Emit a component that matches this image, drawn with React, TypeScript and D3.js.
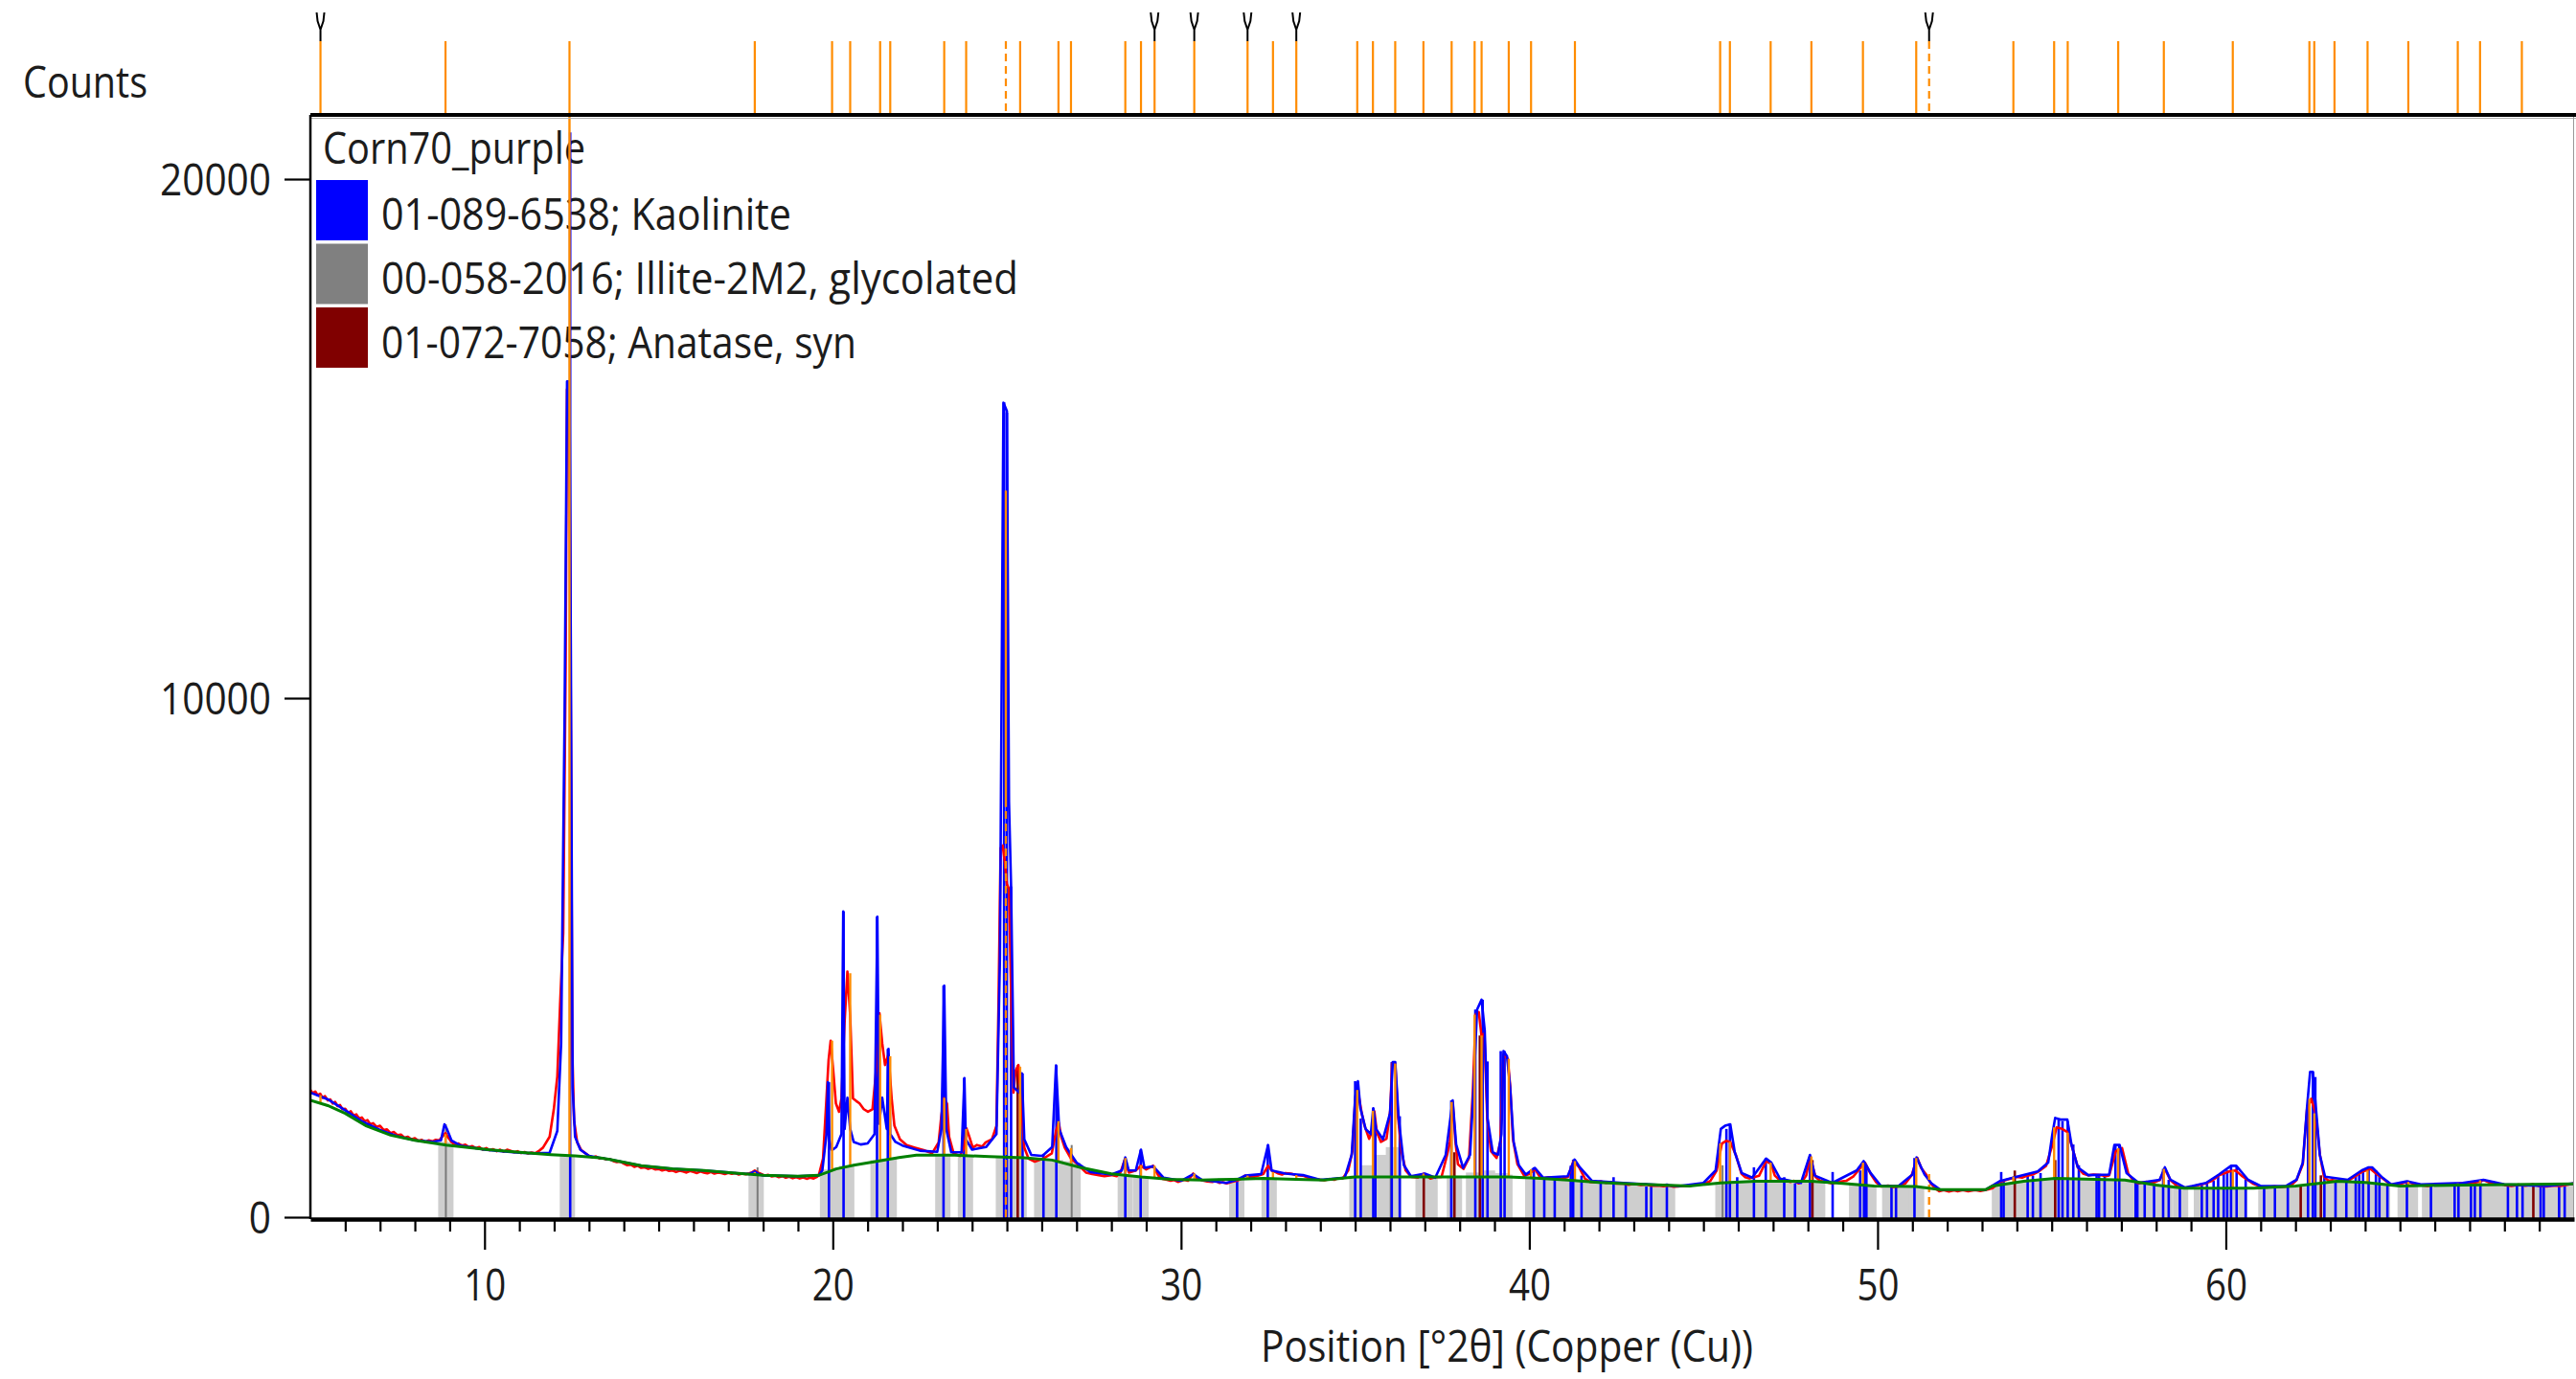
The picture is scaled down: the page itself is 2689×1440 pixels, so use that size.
import React, { useRef, useEffect } from 'react';
import * as d3 from 'd3';

type Pt = [number, number];

// observed scan (red), 2theta / counts
const observed: Pt[] = [
  [5.0, 2450], [5.07, 2390], [5.14, 2420], [5.21, 2350], [5.28, 2380], [5.35, 2300], [5.42, 2330], [5.5, 2250],
  [5.57, 2270], [5.64, 2190], [5.71, 2220], [5.78, 2140], [5.85, 2160], [5.92, 2080], [6.0, 2090], [6.08, 2010],
  [6.16, 2040], [6.24, 1960], [6.32, 1980], [6.4, 1900], [6.48, 1920], [6.56, 1850], [6.64, 1870], [6.72, 1790],
  [6.8, 1810], [6.9, 1740], [7.0, 1760], [7.1, 1680], [7.2, 1690], [7.3, 1620], [7.4, 1640], [7.5, 1580],
  [7.6, 1590], [7.7, 1530], [7.8, 1550], [7.9, 1500], [8.0, 1520], [8.1, 1470], [8.2, 1490], [8.3, 1450],
  [8.4, 1480], [8.5, 1460], [8.6, 1490], [8.7, 1480], [8.8, 1560], [8.88, 1620], [8.95, 1540], [9.05, 1450],
  [9.15, 1400], [9.25, 1420], [9.35, 1380], [9.45, 1395], [9.55, 1350], [9.65, 1370], [9.75, 1330], [9.85, 1350],
  [9.95, 1300], [10.05, 1330], [10.15, 1290], [10.25, 1310], [10.35, 1270], [10.45, 1300], [10.55, 1260],
  [10.65, 1300], [10.75, 1280], [10.85, 1250], [10.95, 1270], [11.05, 1235], [11.15, 1255], [11.25, 1225],
  [11.35, 1245], [11.45, 1230], [11.55, 1270], [11.68, 1340], [11.87, 1550], [11.99, 2080], [12.09, 2710],
  [12.17, 4090], [12.26, 5470], [12.33, 10600], [12.37, 15950], [12.43, 15950], [12.47, 10870], [12.52, 3240],
  [12.57, 1870], [12.66, 1440], [12.78, 1290], [12.9, 1230], [13.0, 1180], [13.1, 1150], [13.2, 1170],
  [13.3, 1130], [13.4, 1140], [13.5, 1110], [13.6, 1120], [13.7, 1080], [13.8, 1060], [13.9, 1070], [14.0, 1030],
  [14.1, 1000], [14.2, 1010], [14.3, 970], [14.4, 990], [14.5, 950], [14.6, 960], [14.7, 930], [14.8, 950],
  [14.9, 920], [15.0, 930], [15.1, 900], [15.2, 920], [15.3, 890], [15.4, 900], [15.5, 870], [15.6, 895],
  [15.7, 880], [15.8, 860], [15.9, 890], [16.0, 870], [16.1, 850], [16.2, 880], [16.3, 860], [16.4, 845],
  [16.5, 870], [16.6, 840], [16.7, 860], [16.8, 850], [16.9, 830], [17.0, 855], [17.1, 835], [17.2, 850],
  [17.3, 820], [17.4, 840], [17.5, 825], [17.6, 845], [17.7, 870], [17.76, 900], [17.85, 860], [17.95, 830],
  [18.05, 800], [18.15, 815], [18.25, 785], [18.35, 800], [18.45, 770], [18.55, 790], [18.65, 760], [18.75, 780],
  [18.85, 750], [18.95, 770], [19.05, 745], [19.15, 765], [19.25, 740], [19.35, 760], [19.45, 745], [19.55, 780],
  [19.6, 810], [19.72, 1130], [19.81, 2190], [19.88, 3030], [19.94, 3400], [20.0, 2930], [20.09, 2190],
  [20.18, 2030], [20.25, 2290], [20.34, 3770], [20.42, 4730], [20.5, 3880], [20.58, 2290], [20.67, 2240],
  [20.77, 2190], [20.89, 2080], [21.01, 2030], [21.14, 2080], [21.23, 2720], [21.3, 3350], [21.34, 3930],
  [21.42, 3350], [21.5, 2930], [21.6, 3140], [21.69, 2290], [21.77, 1760], [21.93, 1500], [22.12, 1390],
  [22.36, 1340], [22.61, 1290], [22.85, 1230], [23.04, 1440], [23.12, 1970], [23.19, 2290], [23.28, 2190],
  [23.34, 1550], [23.47, 1230], [23.65, 1180], [23.77, 1340], [23.84, 1710], [23.92, 1550], [24.02, 1340],
  [24.14, 1390], [24.29, 1360], [24.39, 1440], [24.57, 1500], [24.7, 1760], [24.76, 4140], [24.82, 7110],
  [24.88, 7160], [24.94, 6850], [25.0, 6420], [25.06, 6320], [25.12, 4300], [25.19, 2400], [25.25, 2820],
  [25.33, 2930], [25.41, 2190], [25.5, 1340], [25.62, 1130], [25.8, 1070], [26.05, 1130], [26.29, 1230],
  [26.41, 1660], [26.49, 1820], [26.56, 1550], [26.66, 1340], [26.84, 1130], [27.03, 1020], [27.27, 860],
  [27.45, 830], [27.64, 810], [27.8, 790], [28.0, 810], [28.15, 790], [28.26, 860], [28.38, 1100], [28.5, 860],
  [28.7, 900], [28.85, 990], [29.0, 920], [29.2, 990], [29.35, 800], [29.47, 740], [29.6, 720], [29.7, 700],
  [29.8, 715], [29.91, 680], [30.0, 700], [30.1, 720], [30.2, 700], [30.35, 840], [30.45, 760], [30.6, 710],
  [30.75, 690], [30.9, 680], [31.0, 700], [31.1, 660], [31.2, 675], [31.31, 650], [31.45, 680], [31.6, 700],
  [31.7, 730], [31.84, 800], [31.95, 770], [32.1, 780], [32.2, 800], [32.36, 830], [32.5, 990], [32.6, 900],
  [32.71, 870], [32.8, 840], [32.9, 820], [33.0, 850], [33.15, 840], [33.3, 810], [33.5, 800], [33.65, 760],
  [33.8, 740], [33.95, 725], [34.12, 710], [34.25, 735], [34.4, 720], [34.5, 750], [34.64, 745], [34.8, 900],
  [34.92, 1270], [35.0, 2250], [35.08, 2430], [35.19, 2000], [35.27, 1760], [35.4, 1510], [35.48, 1640],
  [35.55, 2040], [35.62, 1640], [35.74, 1450], [35.9, 1510], [36.01, 2070], [36.06, 2960], [36.15, 2960],
  [36.23, 1940], [36.33, 1270], [36.45, 900], [36.61, 775], [36.8, 760], [36.97, 840], [37.16, 745],
  [37.3, 770], [37.48, 775], [37.64, 1200], [37.72, 1450], [37.8, 2220], [37.88, 1450], [37.95, 1020],
  [38.11, 930], [38.27, 1140], [38.38, 2430], [38.46, 3910], [38.55, 3950], [38.63, 3480], [38.71, 3540],
  [38.79, 1940], [38.9, 1270], [39.06, 1140], [39.17, 1450], [39.26, 3140], [39.38, 3050], [39.45, 2530],
  [39.53, 1510], [39.66, 1020], [39.85, 800], [40.0, 830], [40.16, 930], [40.3, 780], [40.4, 745], [40.55, 770],
  [40.7, 760], [40.9, 740], [41.11, 775], [41.27, 1080], [41.43, 960], [41.6, 740], [41.74, 680], [41.9, 670],
  [42.05, 690], [42.2, 660], [42.35, 675], [42.5, 645], [42.69, 650], [42.85, 625], [43.0, 640], [43.2, 620],
  [43.35, 630], [43.5, 605], [43.7, 610], [43.85, 595], [44.0, 610], [44.15, 585], [44.27, 590], [44.45, 605],
  [44.6, 600], [44.7, 620], [44.85, 630], [45.06, 650], [45.2, 700], [45.38, 900], [45.53, 1420], [45.65, 1470],
  [45.77, 1450], [45.93, 1200], [46.09, 840], [46.2, 770], [46.32, 745], [46.45, 770], [46.6, 800], [46.8, 1080],
  [46.95, 1020], [47.05, 800], [47.19, 714], [47.35, 700], [47.5, 680], [47.6, 700], [47.74, 650], [47.85, 700],
  [47.95, 800], [48.06, 1175], [48.22, 775], [48.35, 700], [48.5, 680], [48.69, 650], [48.9, 680], [49.1, 700],
  [49.3, 780], [49.48, 930], [49.64, 1050], [49.8, 836], [49.95, 680], [50.11, 590], [50.3, 610], [50.45, 580],
  [50.58, 590], [50.8, 650], [50.98, 806], [51.14, 1144], [51.25, 950], [51.38, 836], [51.53, 650], [51.65, 560],
  [51.77, 500], [51.9, 520], [52.05, 495], [52.2, 515], [52.3, 500], [52.45, 520], [52.6, 500], [52.8, 520],
  [52.95, 505], [53.15, 530], [53.3, 560], [53.51, 680], [53.7, 720], [54.0, 775], [54.15, 760], [54.3, 800],
  [54.45, 820], [54.6, 870], [54.84, 990], [55.02, 1390], [55.14, 1730], [55.3, 1700], [55.45, 1640],
  [55.57, 1390], [55.75, 960], [55.9, 840], [56.05, 805], [56.2, 820], [56.4, 810], [56.55, 790], [56.65, 805],
  [56.84, 1270], [57.02, 1330], [57.2, 836], [57.35, 700], [57.5, 650], [57.7, 680], [57.9, 660], [58.1, 713],
  [58.25, 930], [58.41, 713], [58.6, 600], [58.83, 560], [59.0, 580], [59.15, 610], [59.3, 630], [59.43, 652],
  [59.6, 700], [59.8, 805], [60.1, 880], [60.28, 900], [60.45, 800], [60.64, 713], [60.8, 640], [61.0, 590],
  [61.2, 575], [61.4, 595], [61.55, 580], [61.73, 590], [61.9, 630], [62.03, 713], [62.21, 1020], [62.33, 2070],
  [62.45, 2280], [62.58, 2000], [62.7, 1205], [62.82, 775], [62.95, 700], [63.06, 713], [63.3, 690],
  [63.54, 713], [63.7, 780], [63.9, 870], [64.15, 930], [64.3, 850], [64.51, 744], [64.75, 621], [65.0, 640],
  [65.23, 682], [65.4, 640], [65.6, 621], [65.8, 600], [66.0, 630], [66.2, 640], [66.4, 615], [66.6, 640],
  [66.8, 652], [67.1, 660], [67.25, 680], [67.41, 713], [67.55, 670], [67.7, 650], [67.85, 640], [68.0, 621],
  [68.2, 600], [68.4, 625], [68.6, 605], [68.8, 630], [69.0, 600], [69.22, 590], [69.4, 610], [69.6, 600],
  [69.8, 625], [70.0, 652],
];

// calculated profile (blue)
const calculated: Pt[] = [
  [5.0, 2400], [5.5, 2270], [6.0, 2060], [6.5, 1840], [7.0, 1680], [7.5, 1560], [8.0, 1480], [8.5, 1450],
  [8.75, 1480], [8.85, 1790], [8.92, 1700], [9.05, 1480], [9.3, 1380], [10.0, 1300], [10.5, 1270], [11.0, 1240],
  [11.5, 1230], [11.87, 1240], [12.09, 1660], [12.2, 3350], [12.3, 9700], [12.37, 16100], [12.44, 16100],
  [12.48, 10760], [12.53, 2500], [12.6, 1550], [12.75, 1300], [13.0, 1180], [13.3, 1145], [13.6, 1110],
  [14.5, 990], [15.4, 930], [16.3, 900], [17.2, 850], [17.6, 830], [17.76, 880], [17.9, 820], [18.0, 805],
  [19.0, 790], [19.6, 805], [19.7, 900], [19.82, 1600], [19.86, 2600], [19.9, 1500], [19.96, 1300],
  [20.0, 1300], [20.1, 1350], [20.25, 1600], [20.3, 5890], [20.34, 1700], [20.42, 2300], [20.5, 1700],
  [20.6, 1450], [20.8, 1400], [21.0, 1420], [21.2, 1600], [21.28, 5790], [21.33, 1800], [21.42, 2300],
  [21.55, 1700], [21.6, 3240], [21.65, 1600], [21.8, 1450], [22.0, 1380], [22.5, 1280], [23.0, 1260],
  [23.12, 1700], [23.2, 4460], [23.26, 1700], [23.4, 1250], [23.7, 1250], [23.78, 2680], [23.82, 1500],
  [24.0, 1300], [24.4, 1350], [24.7, 1600], [24.8, 5000], [24.9, 15690], [25.0, 15530], [25.06, 8000],
  [25.12, 6370], [25.2, 2500], [25.35, 2400], [25.43, 2770], [25.5, 1500], [25.7, 1200], [26.0, 1180],
  [26.05, 1200], [26.3, 1350], [26.41, 2925], [26.5, 1700], [26.7, 1350], [27.0, 1050], [27.4, 870],
  [28.0, 820], [28.3, 900], [28.4, 1150], [28.5, 900], [28.7, 900], [28.85, 1300], [28.95, 950], [29.2, 980],
  [29.5, 760], [30.0, 700], [30.35, 830], [30.6, 720], [31.3, 660], [31.6, 720], [31.84, 800], [32.3, 830],
  [32.5, 1390], [32.6, 900], [33.0, 840], [33.5, 810], [34.0, 720], [34.7, 760], [34.9, 1200], [35.0, 2300],
  [35.08, 2620], [35.15, 2100], [35.3, 1700], [35.45, 1600], [35.52, 2100], [35.6, 1700], [35.8, 1500],
  [36.0, 2000], [36.08, 2990], [36.15, 2990], [36.25, 1900], [36.4, 1000], [36.6, 790], [37.0, 840],
  [37.3, 760], [37.6, 1200], [37.8, 2250], [37.9, 1400], [38.1, 950], [38.3, 1200], [38.4, 2500],
  [38.5, 4000], [38.63, 4190], [38.72, 3600], [38.8, 1900], [38.95, 1250], [39.1, 1200], [39.2, 1600],
  [39.26, 3200], [39.36, 3100], [39.45, 2500], [39.55, 1450], [39.7, 1000], [39.9, 820], [40.16, 950],
  [40.4, 760], [41.1, 790], [41.3, 1110], [41.45, 960], [41.8, 700], [42.7, 660], [44.3, 600], [45.0, 660],
  [45.35, 900], [45.5, 1700], [45.62, 1760], [45.77, 1790], [45.9, 1250], [46.1, 850], [46.4, 760],
  [46.8, 1130], [46.95, 1050], [47.2, 740], [47.8, 660], [48.06, 1200], [48.2, 800], [48.7, 660],
  [49.4, 900], [49.6, 1080], [49.8, 850], [50.1, 600], [50.6, 600], [51.0, 820], [51.12, 1150], [51.35, 820],
  [51.55, 650], [51.8, 530], [53.1, 530], [53.5, 690], [54.0, 780], [54.6, 880], [54.9, 1050], [55.02, 1600],
  [55.1, 1912], [55.25, 1880], [55.45, 1880], [55.57, 1390], [55.75, 960], [56.05, 810], [56.65, 820],
  [56.8, 1390], [56.95, 1390], [57.15, 850], [57.5, 660], [58.1, 720], [58.25, 960], [58.41, 720],
  [58.83, 570], [59.43, 660], [59.8, 820], [60.15, 990], [60.3, 990], [60.64, 720], [61.0, 600],
  [61.73, 600], [62.03, 720], [62.21, 1050], [62.33, 2100], [62.42, 2800], [62.5, 2800], [62.6, 2000],
  [62.7, 1200], [62.85, 780], [63.5, 720], [63.9, 900], [64.1, 960], [64.2, 960], [64.5, 760], [64.75, 630],
  [65.2, 690], [65.6, 630], [66.8, 660], [67.4, 720], [68.0, 630], [69.2, 600], [70.0, 650],
];

// fitted background (green)
const background: Pt[] = [
  [5.0, 2250], [5.5, 2150], [6.0, 2000], [6.6, 1760], [7.3, 1580], [8.0, 1480], [8.9, 1390], [10.1, 1300],
  [11.0, 1250], [11.9, 1205], [12.6, 1180], [13.3, 1145], [13.6, 1110], [14.5, 990], [15.4, 930], [16.3, 900],
  [17.2, 850], [18.0, 805], [19.0, 790], [19.6, 805], [20.1, 930], [20.6, 1000], [21.3, 1080], [21.9, 1150],
  [22.4, 1195], [23.5, 1195], [24.5, 1165], [25.5, 1145], [26.3, 1100], [27.1, 960], [28.0, 835], [28.85, 775],
  [29.7, 730], [30.6, 715], [31.5, 730], [32.36, 745], [33.3, 730], [34.1, 715], [35.0, 775], [37.6, 775],
  [39.4, 775], [40.2, 750], [41.1, 715], [42.0, 670], [42.9, 640], [44.6, 600], [45.5, 660], [46.5, 690],
  [48.1, 690], [49.0, 650], [49.9, 600], [51.1, 590], [51.8, 530], [53.1, 530], [53.3, 600], [54.2, 690],
  [55.1, 745], [57.1, 715], [58.0, 620], [58.8, 560], [60.8, 560], [62.0, 600], [63.2, 690], [64.0, 670],
  [65.0, 600], [66.8, 620], [70.0, 640],
];

// 01-089-6538 Kaolinite reference sticks
const kaoliniteSticks: Pt[] = [
  [12.46, 20900], [19.89, 2600], [20.31, 5890], [21.27, 5790], [21.58, 3240], [23.18, 4460], [23.77, 2680],
  [24.92, 15700], [25.0, 15500], [25.12, 6370], [25.45, 2770], [26.05, 1210], [26.42, 2925], [28.4, 1144],
  [28.84, 1298], [31.61, 714], [32.49, 1390], [35.0, 2620], [35.16, 1900], [35.52, 2097], [35.58, 1800],
  [36.05, 2990], [36.28, 1944], [37.76, 2250], [38.45, 4000], [38.66, 4190], [38.8, 3000], [39.18, 3200],
  [39.29, 3200], [40.13, 960], [40.43, 770], [40.73, 770], [41.19, 990], [41.26, 1110], [41.5, 800],
  [42.05, 650], [42.42, 770], [42.77, 650], [43.36, 590], [43.5, 590], [43.95, 650], [45.66, 1700],
  [45.76, 1790], [45.97, 770], [46.45, 960], [46.79, 1140], [47.32, 770], [47.63, 650], [48.06, 1140],
  [48.71, 870], [49.5, 900], [49.61, 1050], [49.68, 1000], [50.4, 590], [50.53, 600], [51.06, 1140],
  [53.55, 870], [53.62, 700], [54.31, 800], [54.46, 800], [54.68, 850], [55.2, 1900], [55.31, 1850],
  [55.46, 1850], [55.62, 1400], [55.78, 1000], [56.29, 800], [56.36, 800], [56.52, 800], [56.83, 1390],
  [56.94, 1390], [57.41, 700], [57.46, 700], [57.67, 650], [57.94, 650], [58.2, 930], [58.36, 720],
  [58.68, 600], [59.31, 620], [59.46, 650], [59.65, 700], [59.78, 800], [59.94, 850], [60.04, 900],
  [60.15, 980], [60.31, 980], [60.57, 750], [61.1, 600], [61.41, 600], [61.78, 600], [62.36, 2130],
  [62.5, 2800], [62.57, 2700], [62.83, 780], [63.15, 720], [63.46, 720], [63.73, 800], [63.83, 850],
  [63.94, 880], [64.1, 950], [64.31, 900], [64.41, 800], [64.64, 630], [65.2, 680], [65.89, 620],
  [66.57, 640], [66.68, 640], [67.04, 640], [67.15, 640], [67.31, 700], [68.1, 630], [68.36, 630],
  [68.52, 630], [69.04, 600], [69.13, 600], [69.57, 610], [69.73, 640],
];

// 00-058-2016 Illite-2M2 (grey bands)
const illiteBars: Pt[] = [
  [8.89, 1450], [12.38, 1180], [17.8, 810], [19.85, 920], [20.2, 960], [20.4, 990], [21.3, 1100], [21.62, 1130],
  [23.16, 1190], [23.81, 1200], [24.9, 1170], [25.15, 1160], [25.35, 1160], [26.0, 1130], [26.4, 1100],
  [26.65, 1080], [26.9, 1050], [28.4, 810], [28.85, 780], [31.6, 730], [32.53, 760], [35.05, 800], [35.4, 1000],
  [35.75, 1200], [36.1, 1350], [36.95, 780], [37.15, 780], [37.85, 800], [38.4, 860], [38.8, 900], [39.2, 850],
  [39.3, 820], [40.1, 760], [40.5, 745], [40.9, 720], [41.3, 700], [41.7, 690], [42.1, 670], [42.5, 660],
  [42.9, 640], [43.3, 630], [43.7, 620], [43.97, 610], [45.56, 680], [45.95, 690], [46.35, 690], [46.75, 690],
  [47.15, 690], [47.55, 690], [47.95, 690], [48.28, 690], [49.4, 650], [49.75, 620], [50.35, 600], [50.75, 600],
  [51.12, 590], [53.5, 610], [53.9, 660], [54.3, 700], [54.7, 730], [55.1, 745], [55.5, 745], [55.9, 740],
  [56.3, 735], [56.7, 730], [57.1, 715], [57.5, 690], [57.85, 650], [58.25, 620], [58.7, 590], [59.3, 570],
  [59.7, 560], [60.1, 560], [60.4, 560], [61.15, 560], [61.55, 570], [61.95, 590], [62.35, 620], [62.75, 650],
  [63.15, 690], [63.55, 690], [63.95, 670], [64.35, 650], [64.5, 640], [65.15, 610], [65.3, 610], [65.85, 610],
  [66.25, 615], [66.65, 620], [67.05, 625], [67.45, 630], [67.85, 635], [68.25, 635], [68.65, 640],
  [69.05, 640], [69.45, 640], [69.85, 640],
];
const illiteLines: Pt[] = [[8.89, 1790], [17.84, 960], [26.86, 1390], [36.02, 2000], [45.55, 1000]];

// 01-072-7058 Anatase sticks
const anataseSticks: Pt[] = [
  [25.31, 2925], [36.97, 836], [37.85, 1250], [38.58, 3500], [48.13, 1100], [53.94, 898], [55.1, 1100],
  [62.15, 590], [62.73, 806], [68.83, 650],
];

// peak list
const peakPositions = [
  5.29, 8.88, 12.44, 17.76, 19.98, 20.5, 21.36, 21.65, 23.2, 23.83, 24.97, 25.38, 26.48, 26.84, 28.4, 28.85,
  29.24, 30.38, 31.91, 32.64, 33.31, 35.06, 35.51, 36.15, 36.96, 37.77, 38.43, 38.63, 39.41, 40.05, 41.31,
  45.48, 45.76, 46.93, 48.1, 49.58, 51.11, 51.48, 53.9, 55.07, 55.46, 56.91, 58.22, 60.2, 62.4, 62.54, 63.12,
  64.07, 65.24, 66.66, 67.3, 68.5,
];
const peakHeights = [
  2350, 1600, 21500, 870, 3400, 4700, 3900, 3100, 2300, 1700, 14000, 2900, 1850, 1330, 1140, 1000,
  990, 840, 800, 870, 810, 2450, 2050, 2960, 840, 2220, 3900, 3500, 3050, 920, 1080,
  1420, 1450, 1050, 1170, 1050, 1140, 830, 780, 1730, 1630, 1330, 930, 900, 2280, 2000, 720,
  900, 680, 650, 710, 640,
];
const dashedPeaks: Pt[] = [[24.97, 7900], [51.48, 830]];
const markedPeaks = [5.29, 29.24, 30.38, 31.91, 33.31, 51.48];

const xMajorTicks = [10, 20, 30, 40, 50, 60];
const yTicks = [0, 10000, 20000];
const sampleName = 'Corn70_purple';
const legendLabels = [
  '01-089-6538; Kaolinite',
  '00-058-2016; Illite-2M2, glycolated',
  '01-072-7058; Anatase, syn',
];
const legendColors = ['#0000ff', '#808080', '#800000'];
const legendWidths = [428, 665, 496];

export default function App() {
  const ref = useRef<SVGSVGElement>(null);
  useEffect(() => {
    const svg = d3.select(ref.current);
    svg.selectAll('*').remove();
    const font = "'Open Sans', 'Noto Sans', sans-serif";
    const ink = '#1c1c1c';
    const orange = '#ff8c00';
    const left = 324, right = 2686, top = 120, base = 1273;

    const x = d3.scaleLinear().domain([5, 70]).range([left, 2687]);
    const y = d3.scaleLinear().domain([0, 20000]).range([1271, 187]);

    const bgAt = (p: number) => {
      const i = Math.min(Math.max(d3.bisector((d: Pt) => d[0]).left(background, p), 1), background.length - 1);
      const a = background[i - 1], b = background[i];
      return a[1] + ((p - a[0]) / (b[0] - a[0])) * (b[1] - a[1]);
    };

    svg.append('text').attr('x', 24).attr('y', 102).text('Counts')
      .attr('font-family', font).attr('font-size', 46).attr('fill', ink)
      .attr('textLength', 130).attr('lengthAdjust', 'spacingAndGlyphs');

    // legend
    const lg = svg.append('g').attr('font-family', font).attr('font-size', 46).attr('fill', ink);
    lg.append('text').attr('x', 337).attr('y', 171).text(sampleName)
      .attr('textLength', 274).attr('lengthAdjust', 'spacingAndGlyphs');
    legendLabels.forEach((lab, i) => {
      lg.append('rect').attr('x', 330).attr('y', 188 + i * 66.5).attr('width', 54).attr('height', 63)
        .attr('fill', legendColors[i]);
      lg.append('text').attr('x', 398).attr('y', 240 + i * 67).text(lab)
        .attr('textLength', legendWidths[i]).attr('lengthAdjust', 'spacingAndGlyphs');
    });

    // plot area
    svg.append('clipPath').attr('id', 'plot-clip').append('rect')
      .attr('x', left).attr('y', top).attr('width', right - left).attr('height', base - top);
    const plot = svg.append('g').attr('clip-path', 'url(#plot-clip)');

    plot.append('g').selectAll('rect').data(illiteBars).join('rect')
      .attr('x', d => x(d[0] - 0.22)).attr('width', x(5.44) - x(5))
      .attr('y', d => y(d[1])).attr('height', d => y(0) - y(d[1]) + 2)
      .attr('fill', '#cecece');
    plot.append('g').selectAll('line').data(illiteLines).join('line')
      .attr('x1', d => x(d[0])).attr('x2', d => x(d[0])).attr('y1', y(0)).attr('y2', d => y(d[1]))
      .attr('stroke', '#7a7a7a').attr('stroke-width', 2);
    plot.append('g').selectAll('line').data(kaoliniteSticks).join('line')
      .attr('x1', d => x(d[0])).attr('x2', d => x(d[0])).attr('y1', y(0) + 2).attr('y2', d => y(d[1]))
      .attr('stroke', '#0000ff').attr('stroke-width', 2.6);
    plot.append('g').selectAll('line').data(anataseSticks).join('line')
      .attr('x1', d => x(d[0])).attr('x2', d => x(d[0])).attr('y1', y(0) + 2).attr('y2', d => y(d[1]))
      .attr('stroke', '#800000').attr('stroke-width', 2.6);

    const line = d3.line<Pt>().x(d => x(d[0])).y(d => y(d[1]));
    plot.append('path').datum(observed).attr('d', line).attr('fill', 'none')
      .attr('stroke', '#ff0000').attr('stroke-width', 2.6).attr('stroke-linejoin', 'round');
    plot.append('path').datum(calculated).attr('d', line).attr('fill', 'none')
      .attr('stroke', '#0000ff').attr('stroke-width', 2.6).attr('stroke-linejoin', 'round');

    // peak sticks inside plot
    const peaks = peakPositions.map((p, i) => [p, peakHeights[i]] as Pt);
    plot.append('g').selectAll('line').data(peaks).join('line')
      .attr('x1', d => x(d[0])).attr('x2', d => x(d[0]))
      .attr('y1', d => {
        const dp = dashedPeaks.find(q => q[0] === d[0]);
        return dp ? y(dp[1]) : y(bgAt(d[0]));
      })
      .attr('y2', d => y(d[1]))
      .attr('stroke', orange).attr('stroke-width', 2.4);
    plot.append('g').selectAll('line').data(dashedPeaks).join('line')
      .attr('x1', d => x(d[0])).attr('x2', d => x(d[0])).attr('y1', y(0)).attr('y2', d => y(d[1]))
      .attr('stroke', orange).attr('stroke-width', 2.4).attr('stroke-dasharray', '8 5');

    plot.append('path').datum(background).attr('d', line).attr('fill', 'none')
      .attr('stroke', '#008000').attr('stroke-width', 3);

    // peak list strip above plot
    const strip = svg.append('g');
    strip.selectAll('line').data(peakPositions).join('line')
      .attr('x1', d => x(d)).attr('x2', d => x(d)).attr('y1', 43).attr('y2', top)
      .attr('stroke', orange).attr('stroke-width', 2.2)
      .attr('stroke-dasharray', d => (dashedPeaks.some(q => q[0] === d) ? '8 5' : null));
    strip.selectAll('path').data(markedPeaks).join('path')
      .attr('d', d => {
        const px = x(d);
        return `M${px - 4},13 L${px - 3},22 L${px},31 M${px + 4},13 L${px + 3},22 L${px},31 M${px},29 L${px},43`;
      })
      .attr('fill', 'none').attr('stroke', '#000').attr('stroke-width', 2);

    // frame
    svg.append('line').attr('x1', left).attr('x2', 2689).attr('y1', top).attr('y2', top)
      .attr('stroke', '#000').attr('stroke-width', 4);
    svg.append('line').attr('x1', left).attr('x2', 2689).attr('y1', top + 3.5).attr('y2', top + 3.5)
      .attr('stroke', '#b0b0b0').attr('stroke-width', 1);
    svg.append('line').attr('x1', left).attr('x2', left).attr('y1', top).attr('y2', base)
      .attr('stroke', '#000').attr('stroke-width', 2.5);
    svg.append('line').attr('x1', right + 0.5).attr('x2', right + 0.5).attr('y1', top + 2).attr('y2', base)
      .attr('stroke', '#999').attr('stroke-width', 1);

    // x axis
    const xMinorTicks = d3.range(6, 70).filter(v => !xMajorTicks.includes(v));
    const gMinor = svg.append('g').attr('transform', `translate(0,${base})`)
      .call(d3.axisBottom(x).tickValues(xMinorTicks).tickSize(13).tickSizeOuter(0).tickFormat(() => ''));
    gMinor.select('.domain').attr('stroke', '#000').attr('stroke-width', 4.5);
    gMinor.selectAll('.tick line').attr('stroke', '#000').attr('stroke-width', 2.2);

    const gMajor = svg.append('g').attr('transform', `translate(0,${base})`)
      .call(d3.axisBottom(x).tickValues(xMajorTicks).tickSize(32).tickSizeOuter(0).tickFormat(d3.format('d')));
    gMajor.select('.domain').remove();
    gMajor.selectAll('.tick line').attr('stroke', '#000').attr('stroke-width', 2.2);
    gMajor.attr('font-family', font).attr('font-size', 46);
    gMajor.selectAll('.tick text').attr('y', 85).attr('dy', null).attr('fill', ink)
      .attr('textLength', (d: any) => String(d).length * 22)
      .attr('lengthAdjust', 'spacingAndGlyphs');

    svg.append('text').attr('x', 1573).attr('y', 1422).attr('text-anchor', 'middle')
      .text('Position [°2θ] (Copper (Cu))')
      .attr('font-family', font).attr('font-size', 46).attr('fill', ink)
      .attr('textLength', 514).attr('lengthAdjust', 'spacingAndGlyphs');

    // y axis
    const gy = svg.append('g').attr('transform', `translate(${left},0)`)
      .call(d3.axisLeft(y).tickValues(yTicks).tickSize(27).tickSizeOuter(0).tickFormat(d3.format('d')));
    gy.select('.domain').remove();
    gy.attr('font-family', font).attr('font-size', 46);
    gy.selectAll('.tick line').attr('stroke', '#000').attr('stroke-width', 2.2);
    gy.selectAll('.tick text').attr('x', -41).attr('dy', '0.36em').attr('fill', ink)
      .attr('textLength', (d: any) => String(d).length * 23.2)
      .attr('lengthAdjust', 'spacingAndGlyphs');
  }, []);

  return (
    <svg
      ref={ref}
      width={2689}
      height={1440}
      style={{ position: 'absolute', left: 0, top: 0, background: '#fff' }}
    />
  );
}
